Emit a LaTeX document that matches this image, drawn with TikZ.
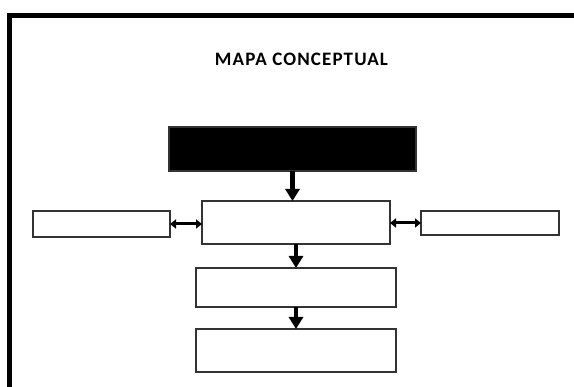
\documentclass[tikz,border=0pt]{standalone}
\usepackage{fontspec}
\setmainfont{Carlito}
\usepackage{tikz}
\usetikzlibrary{arrows.meta}
\tikzset{tema/.style={rectangle, draw=black!80, fill=black, line width=1.5pt, inner sep=0pt, outer sep=0pt}}
\tikzset{caja/.style={rectangle, draw=black!80, fill=white, line width=1.5pt, inner sep=0pt, outer sep=0pt}}
\tikzset{titulo/.style={font=\fontsize{19}{22}\selectfont\bfseries\addfontfeature{LetterSpace=6}, inner sep=0pt}}

\begin{document}
\begin{tikzpicture}[
	x=1pt, y=-1pt,
	baja/.style={-{Triangle[length=12pt,width=14pt]}, line width=4.5pt, shorten >=0pt},
	doble/.style={{Triangle[length=6pt,width=9pt]}-{Triangle[length=6pt,width=9pt]}, line width=3pt},
	]
	\useasboundingbox (0,0) rectangle (574,387);
	% marco
	\draw[line width=5pt] (9.5,390) -- (9.5,15.5) -- (580,15.5);
	
	\node [titulo, anchor=base] (TITULO) at (301.5,66) {MAPA CONCEPTUAL};
	
	\node [tema, minimum width=247pt, minimum height=44pt] (TEMA)   at (292.5,149)   {};
	\node [caja, minimum width=188pt, minimum height=43pt] (CENTRO) at (296,222.5)   {};
	\node [caja, minimum width=137pt, minimum height=26pt] (IZQ)    at (101.5,224)   {};
	\node [caja, minimum width=138pt, minimum height=24pt] (DER)    at (490,223)     {};
	\node [caja, minimum width=200pt, minimum height=39pt] (SUB1)   at (296,287.5)   {};
	\node [caja, minimum width=200pt, minimum height=43pt] (SUB2)   at (296,350.5)   {};
	
	\path
	(TEMA.south)   edge [baja]  (TEMA.south |- CENTRO.north)
	(CENTRO.south) edge [baja]  (SUB1.north)
	(SUB1.south)   edge [baja]  (SUB2.north)
	(IZQ.east)     edge [doble] (IZQ.east -| CENTRO.west)
	(CENTRO.east |- DER.west) edge [doble] (DER.west);
\end{tikzpicture}
\end{document}
